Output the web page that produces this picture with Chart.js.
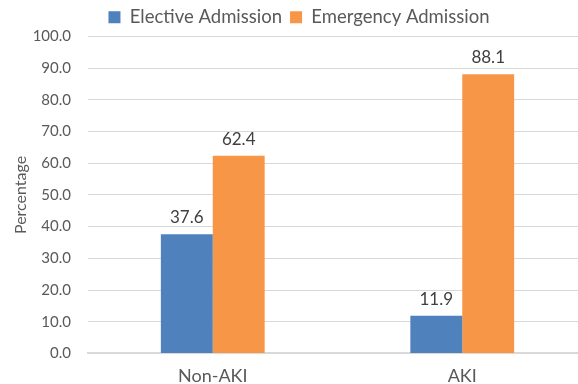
<!DOCTYPE html>
<html>
<head>
<meta charset="utf-8">
<script src="https://cdn.jsdelivr.net/npm/chart.js@4"></script>
<style>
  html, body { margin: 0; padding: 0; background: #fff; overflow: hidden; }
  #wrap { position: relative; width: 592px; height: 399px; }
</style>
</head>
<body>
<div id="wrap"><canvas id="c"></canvas></div>
<script>
const categories = ['Non-AKI', 'AKI'];
const electiveValues = [37.6, 11.9];
const emergencyValues = [62.4, 88.1];
const seriesNames = ['Elective Admission', 'Emergency Admission'];
const seriesColors = ['#4F81BD', '#F79646'];

const FONT = 'Lato, "Open Sans", sans-serif';

// Prints each bar's value just above its top edge
const valueLabels = {
  id: 'valueLabels',
  afterDatasetsDraw(chart) {
    const ctx = chart.ctx;
    ctx.save();
    ctx.font = '17px ' + FONT;
    ctx.fillStyle = '#404040';
    ctx.textAlign = 'center';
    ctx.textBaseline = 'alphabetic';
    chart.data.datasets.forEach((ds, i) => {
      chart.getDatasetMeta(i).data.forEach((bar, j) => {
        ctx.fillText(ds.data[j].toFixed(1), bar.x, bar.y - 11);
      });
    });
    ctx.restore();
  }
};

new Chart(document.getElementById('c'), {
  type: 'bar',
  data: {
    labels: categories,
    datasets: [
      { label: seriesNames[0], data: electiveValues, backgroundColor: seriesColors[0] },
      { label: seriesNames[1], data: emergencyValues, backgroundColor: seriesColors[1] }
    ]
  },
  options: {
    responsive: true,
    maintainAspectRatio: false,
    animation: false,
    datasets: { bar: { barPercentage: 1.0, categoryPercentage: 0.416 } },
    layout: { padding: { left: 11, right: 5, top: 0, bottom: 0 } },
    plugins: {
      legend: {
        position: 'top',
        align: 'center',
        labels: {
          font: { family: FONT, size: 18.5 },
          color: '#595959',
          boxWidth: 12,
          boxHeight: 12,
          padding: 8
        }
      },
      tooltip: { enabled: false }
    },
    scales: {
      x: {
        grid: { display: false, drawTicks: false },
        border: { color: '#d9d9d9', width: 2 },
        ticks: { font: { family: FONT, size: 18 }, color: '#595959', padding: 12 }
      },
      y: {
        min: 0,
        max: 100,
        afterFit(scale) { scale.width = 77; },
        ticks: {
          stepSize: 10,
          font: { family: FONT, size: 15 },
          color: '#595959',
          padding: 17,
          callback: v => v.toFixed(1)
        },
        grid: { color: '#d9d9d9', drawTicks: false },
        border: { display: false },
        title: {
          display: true,
          text: 'Percentage',
          font: { family: FONT, size: 16 },
          color: '#595959',
          padding: { top: 0, bottom: 0 }
        }
      }
    }
  },
  plugins: [valueLabels]
});
</script>
</body>
</html>
